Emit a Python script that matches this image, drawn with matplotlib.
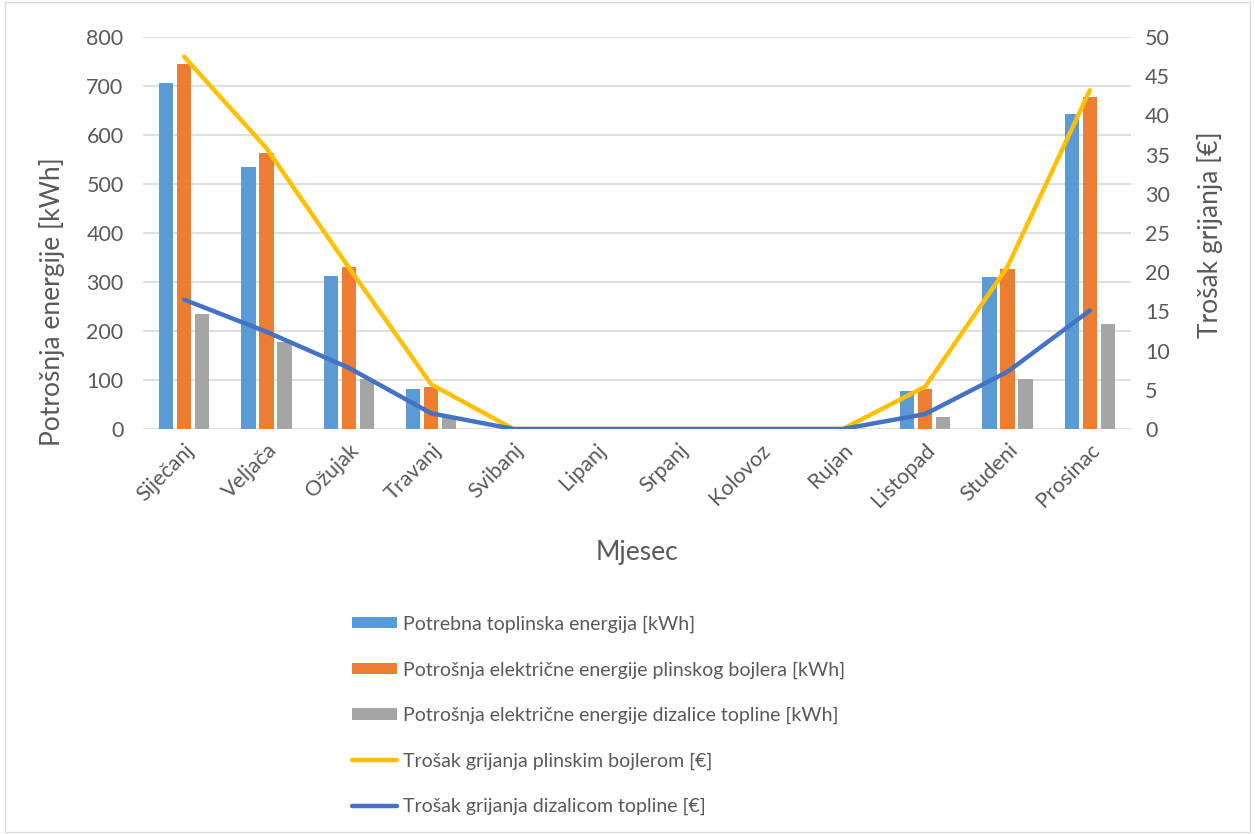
import numpy as np
import matplotlib.pyplot as plt
from matplotlib.patches import Rectangle

mjeseci = ['Siječanj', 'Veljača', 'Ožujak', 'Travanj', 'Svibanj', 'Lipanj',
           'Srpanj', 'Kolovoz', 'Rujan', 'Listopad', 'Studeni', 'Prosinac']

# potrošnja energije [kWh]
toplinska = [707, 535, 313, 82, 0, 0, 0, 0, 0, 78, 310, 643]
plinski_bojler = [745, 564, 331, 86, 0, 0, 0, 0, 0, 82, 326, 678]
dizalica = [235, 178, 103, 25, 0, 0, 0, 0, 0, 25, 102, 214]

# trošak grijanja [€]
trosak_plin = [47.5, 35.8, 20.6, 5.7, 0, 0, 0, 0, 0, 5.4, 20.7, 43.2]
trosak_dizalica = [16.5, 12.4, 7.8, 2.0, 0, 0, 0, 0, 0, 1.9, 7.3, 15.1]

siva = '#595959'
plt.rcParams['font.family'] = ['Lato', 'DejaVu Sans']

fig = plt.figure(figsize=(12.55, 8.34), dpi=100)
ax1 = fig.add_axes([143 / 1255, 1 - 429 / 834, 988 / 1255, 392 / 834])
ax2 = ax1.twinx()

x = np.arange(len(mjeseci))
w = 0.172
pomak = 0.219
ax1.bar(x - pomak, toplinska, w, color='#5B9BD5', label='Potrebna toplinska energija [kWh]', zorder=2)
ax1.bar(x, plinski_bojler, w, color='#ED7D31', label='Potrošnja električne energije plinskog bojlera [kWh]', zorder=2)
ax1.bar(x + pomak, dizalica, w, color='#A5A5A5', label='Potrošnja električne energije dizalice topline [kWh]', zorder=2)

ax2.plot(x, trosak_plin, color='#FFC000', lw=3.2, solid_capstyle='round', label='Trošak grijanja plinskim bojlerom [€]')
ax2.plot(x, trosak_dizalica, color='#4472C4', lw=3.2, solid_capstyle='round', label='Trošak grijanja dizalicom topline [€]')

ax1.set_xlim(-0.5, len(mjeseci) - 0.5)
ax1.set_ylim(0, 800)
ax1.set_yticks(np.arange(0, 801, 100))
ax2.set_ylim(0, 50)
ax2.set_yticks(np.arange(0, 51, 5))

ax1.yaxis.grid(True, color='#D9D9D9', lw=1.2, zorder=0)
ax1.set_axisbelow(True)
for ax in (ax1, ax2):
    for s in ax.spines.values():
        s.set_visible(False)
    ax.tick_params(length=0, labelsize=15.5, colors=siva)
ax1.tick_params(axis='y', pad=14)
ax2.tick_params(axis='y', pad=10)

ax1.set_xticks(x)
ax1.set_xticklabels(mjeseci, rotation=45, ha='right', rotation_mode='anchor')
ax1.tick_params(axis='x', pad=8)

ax1.set_ylabel('Potrošnja energije [kWh]', fontsize=19, color=siva)
ax1.yaxis.set_label_coords(-0.079, 0.324)
ax2.set_ylabel('Trošak grijanja [€]', fontsize=19, color=siva)
ax2.yaxis.set_label_coords(1.067, 0.495)
ax1.set_xlabel('Mjesec', fontsize=19, color=siva)
ax1.xaxis.set_label_coords(0.5, -0.283)

h1, l1 = ax1.get_legend_handles_labels()
h2, l2 = ax2.get_legend_handles_labels()
leg = fig.legend(h1 + h2, l1 + l2, loc='upper left', bbox_to_anchor=(344 / 1255, 1 - 608 / 834),
                 frameon=False, fontsize=14, handlelength=2.35, handleheight=0.5,
                 handletextpad=0.3, labelspacing=1.45, borderaxespad=0)
for t in leg.get_texts():
    t.set_color(siva)

# okvir oko grafikona
fig.patches.append(Rectangle((5 / 1255, 0.002), 1245 / 1255, 0.996, transform=fig.transFigure,
                             fill=False, edgecolor='#D9D9D9', lw=1))

fig.savefig('out.png', dpi=100)
